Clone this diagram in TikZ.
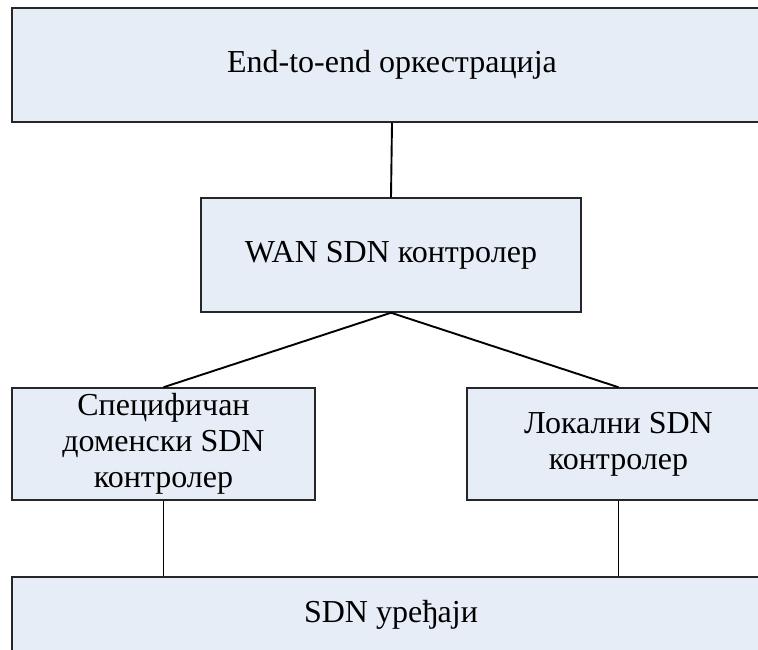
\documentclass[tikz,border=0pt]{standalone}
\usepackage{fontspec}
\setmainfont{Liberation Serif}
\usetikzlibrary{positioning}

\begin{document}
\begin{tikzpicture}[
    x=1pt, y=-1pt,
    box/.style={draw=black!85, line width=1.5pt, fill=boxfill, inner sep=0pt,
                align=center, font=\fontsize{32}{36}\selectfont}, % Style for boxes
    link/.style={black, line width=1.9pt} % Style for connectors
]
\definecolor{boxfill}{HTML}{E6EDF7}

% Page size and clipping
\useasboundingbox (0,0) rectangle (758,649);
\clip (0,0) rectangle (758,649);

% Boxes
\node[box, minimum width=760pt, minimum height=114pt] (orch) at (392,65) {End-to-end оркестрација};
\node[box, minimum width=380pt, minimum height=114pt] (wan) at (391,255) {WAN SDN контролер};
\node[box, minimum width=303pt, minimum height=112pt] (spec) at (163.5,444) {Специфичан\\доменски SDN\\контролер};
\node[box, minimum width=303pt, minimum height=112pt] (local) at (618.5,444) {Локални SDN\\контролер};
\node[box, minimum width=758pt, minimum height=76pt] (dev) at (391,615) {SDN уређаји};

% Connectors
\draw[link] (orch.south) -- (wan.north);
\draw[link] (wan.south) -- (spec.north);
\draw[link] (wan.south) -- (local.north);
\draw[link] (spec.south) -- (spec.south |- dev.north);
\draw[link] (local.south) -- (local.south |- dev.north);

\end{tikzpicture}
\end{document}
